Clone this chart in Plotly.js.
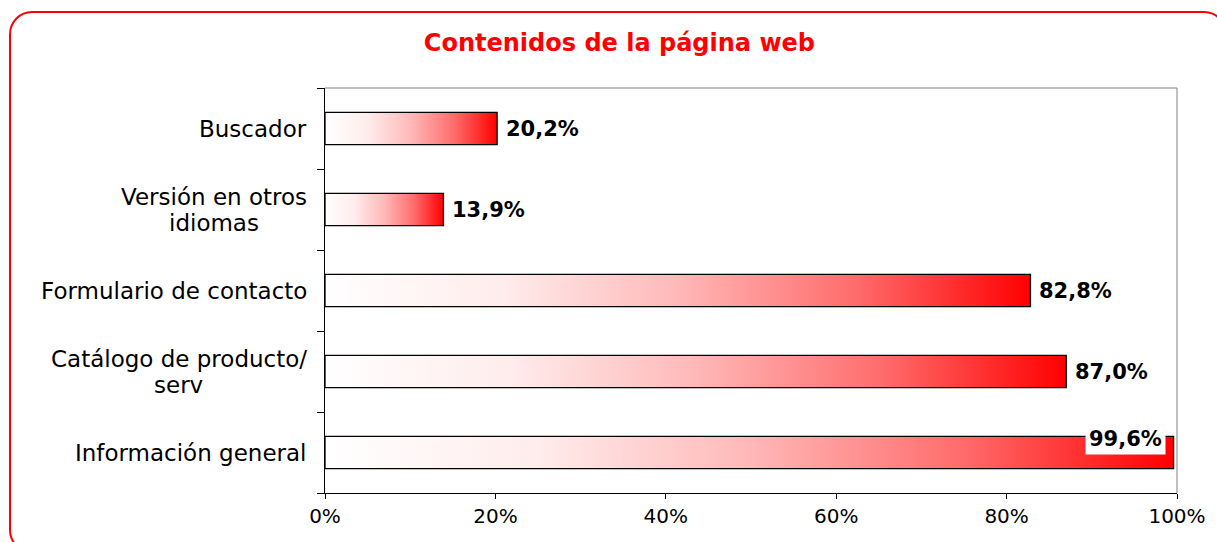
<!DOCTYPE html>
<html>
<head>
<meta charset="utf-8">
<script src="https://cdn.plot.ly/plotly-3.0.1.min.js"></script>
<style>
  html, body { margin: 0; padding: 0; background: #ffffff; overflow: hidden; }
  #chart { width: 1217px; height: 542px; position: relative; }
  #frame { position: absolute; left: 9px; top: 11px; width: 1218px; height: 542px;
           border: 2px solid #ff0000; border-radius: 23px; pointer-events: none; box-sizing: border-box; }
</style>
</head>
<body>
<div id="chart"></div>
<div id="frame"></div>
<script>
// Data (top to bottom as shown in the chart)
const categories = ["Buscador", "Versión en otros<br>idiomas", "Formulario de contacto", "Catálogo de producto/<br>serv", "Información general"];
const values = [20.2, 13.9, 82.8, 87.0, 99.6];
const valueLabels = ["20,2%", "13,9%", "82,8%", "87,0%", "99,6%"];
const xTickValues = [0, 20, 40, 60, 80, 100];
const xTickLabels = ["0%", "20%", "40%", "60%", "80%", "100%"];
const chartTitle = "Contenidos de la página web";

const n = categories.length;
const half = 0.2; // half bar thickness in category units
const gradient = [[0, '#ffffff'], [0.25, '#ffecec'], [0.5, '#ffb8b8'], [0.75, '#ff6c6c'], [1, '#ff0000']];
const FONT = 'DejaVu Sans, Verdana, sans-serif';

const traces = [];
const annotations = [];
values.forEach((v, k) => {
  const pos = n - 1 - k; // first category at top
  traces.push({
    type: 'scatter', mode: 'lines',
    x: [0, v, v, 0, 0],
    y: [pos - half, pos - half, pos + half, pos + half, pos - half],
    fill: 'toself',
    fillgradient: { type: 'horizontal', colorscale: gradient },
    line: { color: '#000000', width: 1.3 },
    hoverinfo: 'skip', showlegend: false
  });
  // value label
  if (v > 95) {
    annotations.push({
      x: v, y: pos, xref: 'x', yref: 'y', text: '<b>' + valueLabels[k] + '</b>',
      showarrow: false, xanchor: 'right', yanchor: 'middle', xshift: -8, yshift: 14,
      bgcolor: '#ffffff', borderpad: 3,
      font: { family: FONT, size: 21, color: '#000000' }
    });
  } else {
    annotations.push({
      x: v, y: pos, xref: 'x', yref: 'y', text: '<b>' + valueLabels[k] + '</b>',
      showarrow: false, xanchor: 'left', yanchor: 'middle', xshift: 7,
      font: { family: FONT, size: 21, color: '#000000' }
    });
  }
  // category label (lines centered with each other)
  const lines = categories[k].split('<br>');
  const lh = 26;
  lines.forEach((ln, j) => {
    annotations.push({
      x: 0, y: pos, xref: 'paper', yref: 'y', text: ln,
      showarrow: false, xanchor: 'right', yanchor: 'middle',
      xshift: -16, yshift: ((lines.length - 1) / 2 - j) * lh,
      align: 'center',
      font: { family: FONT, size: 23, color: '#000000' }
    });
  });
});

const boundaries = [];
for (let i = 0; i <= n; i++) boundaries.push(i - 0.5);

const layout = {
  width: 1217, height: 542,
  margin: { l: 325, r: 40, t: 88, b: 49 },
  paper_bgcolor: '#ffffff', plot_bgcolor: '#ffffff',
  title: {
    text: '<b>' + chartTitle + '</b>',
    x: 0.509, xref: 'container', xanchor: 'center',
    y: 1 - 43 / 542, yref: 'container', yanchor: 'middle',
    font: { family: FONT, size: 24, color: '#ff0000' }
  },
  xaxis: {
    range: [0, 100], tickvals: xTickValues, ticktext: xTickLabels,
    ticks: 'outside', ticklen: 5, tickcolor: '#000000', tickwidth: 1,
    showgrid: false, zeroline: false,
    showline: true, linecolor: '#000000', linewidth: 1,
    tickfont: { family: FONT, size: 20, color: '#000000' },
    fixedrange: true
  },
  yaxis: {
    range: [-0.5, n - 0.5], tickvals: boundaries, ticktext: boundaries.map(() => ''),
    showticklabels: false,
    ticks: 'outside', ticklen: 7, tickcolor: '#000000', tickwidth: 1,
    showgrid: false, zeroline: false,
    showline: true, linecolor: '#000000', linewidth: 1,
    fixedrange: true
  },
  shapes: [
    { type: 'line', xref: 'paper', yref: 'paper', x0: 0, x1: 1, y0: 1, y1: 1, line: { color: '#808080', width: 1 } },
    { type: 'line', xref: 'paper', yref: 'paper', x0: 1, x1: 1, y0: 0, y1: 1, line: { color: '#808080', width: 1 } }
  ],
  annotations: annotations
};

Plotly.newPlot('chart', traces, layout, { displayModeBar: false, staticPlot: true }).then(() => {
  // center multi-line category label lines with each other
  const gd = document.getElementById('chart');
  const anns = gd.layout.annotations;
  const groups = {};
  anns.forEach((a, i) => {
    if (a.xref === 'paper' && a.yshift !== 0) {
      (groups[a.y] = groups[a.y] || []).push(i);
    }
  });
  const nodes = gd.querySelectorAll('.annotation');
  const update = {};
  Object.keys(groups).forEach(key => {
    const idx = groups[key];
    const widths = idx.map(i => nodes[i].querySelector('.annotation-text').getBBox().width);
    const maxW = Math.max(...widths);
    idx.forEach((i, j) => {
      update['annotations[' + i + '].xshift'] = -16 - (maxW - widths[j]) / 2;
    });
  });
  if (Object.keys(update).length) Plotly.relayout(gd, update);
});
</script>
</body>
</html>
